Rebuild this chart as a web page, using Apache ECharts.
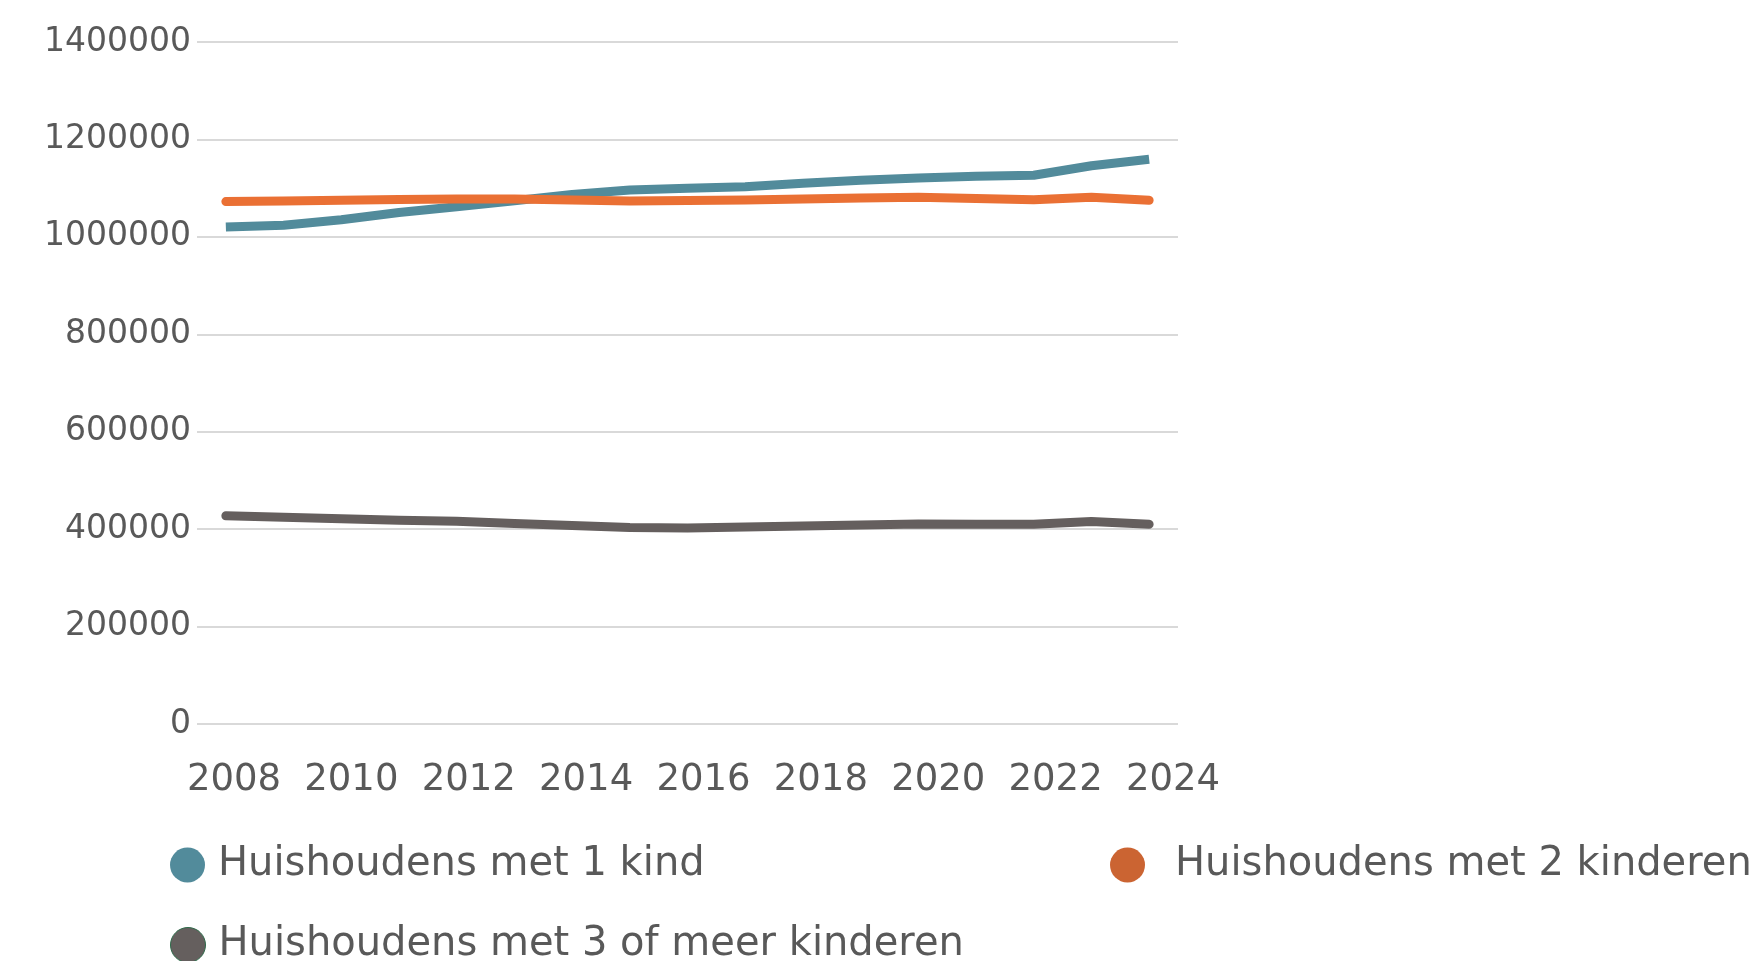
<!DOCTYPE html>
<html>
<head>
<meta charset="utf-8">
<script src="https://cdn.jsdelivr.net/npm/echarts@6/dist/echarts.min.js"></script>
<style>
html,body{margin:0;padding:0;background:#ffffff;}
#chart{width:1758px;height:961px;}
</style>
</head>
<body>
<div id="chart"></div>
<script>
// ---- data ----
const years = ['2008','2009','2010','2011','2012','2013','2014','2015','2016','2017','2018','2019','2020','2021','2022','2023','2024'];
const xTickLabels = [2008, 2010, 2012, 2014, 2016, 2018, 2020, 2022, 2024];
const yTickLabels = [0, 200000, 400000, 600000, 800000, 1000000, 1200000, 1400000];
const seriesNames = ['Huishoudens met 1 kind', 'Huishoudens met 2 kinderen', 'Huishoudens met 3 of meer kinderen'];
const oneChild = [1020000, 1024000, 1035000, 1050000, 1062000, 1074000, 1087000, 1096000, 1100000, 1103000, 1110000, 1116000, 1121000, 1124500, 1126500, 1146000, 1159500];
const twoChildren = [1072500, 1073500, 1075000, 1076500, 1077500, 1077500, 1075500, 1073500, 1074500, 1075500, 1077500, 1080000, 1081500, 1078500, 1076000, 1081500, 1075000];
const threePlus = [427300, 424500, 421100, 418400, 416300, 411600, 407500, 403400, 402600, 404600, 406700, 408700, 410800, 410200, 410200, 415700, 410200];

// ---- styling ----
const FONT = 'DejaVu Sans';
const TEXT = '#595959';
const lineColors = ['#528b9b', '#ea7034', '#655f5e'];
const legendColors = ['#528b9b', '#cb6432', '#655f5e'];

const chart = echarts.init(document.getElementById('chart'), null, {renderer: 'canvas'});

const gridBox = {left: 197, right: 580, top: 42, bottom: 237};

function legendFor(i, left, top, textGap) {
  return {
    show: true,
    left: left, top: top,
    padding: 0,
    orient: 'horizontal',
    icon: 'circle',
    itemWidth: 35, itemHeight: 35,
    selectedMode: false,
    textStyle: {fontFamily: FONT, fontSize: 40, color: TEXT, padding: [0, 0, 0, textGap]},
    data: [{
      name: seriesNames[i],
      itemStyle: i === 2 ? {color: legendColors[i], borderColor: '#2e6b4a', borderWidth: 1} : {color: legendColors[i]}
    }]
  };
}

const option = {
  backgroundColor: '#ffffff',
  animation: false,
  grid: Object.assign({containLabel: false}, gridBox),
  legend: [
    legendFor(0, 170, 845, 8),
    legendFor(1, 1110, 845, 25),
    legendFor(2, 170, 925, 8)
  ],
  xAxis: [
    {
      type: 'category',
      data: years,
      boundaryGap: true,
      axisLine: {show: false},
      axisTick: {show: false},
      axisLabel: {show: false},
      splitLine: {show: false}
    },
    {
      type: 'value',
      position: 'bottom',
      min: 2007.3696,
      max: 2024.0852,
      axisLine: {show: false},
      axisTick: {show: false},
      splitLine: {show: false},
      axisLabel: {
        show: true,
        customValues: xTickLabels,
        formatter: function (v) { return String(Math.round(v)); },
        fontFamily: FONT, fontSize: 37, color: TEXT,
        margin: 38
      }
    }
  ],
  yAxis: {
    type: 'value',
    min: yTickLabels[0],
    max: yTickLabels[yTickLabels.length - 1],
    interval: yTickLabels[1] - yTickLabels[0],
    axisLine: {show: false},
    axisTick: {show: false},
    axisLabel: {
      fontFamily: FONT, fontSize: 33, color: TEXT, margin: 6,
      padding: [4, 0, 0, 0],
      formatter: function (v) { return String(v); }
    },
    splitLine: {show: true, lineStyle: {color: '#d9d9d9', width: 2}}
  },
  series: [
    {
      name: seriesNames[0], type: 'line', data: oneChild, xAxisIndex: 0,
      symbol: 'none', color: lineColors[0],
      lineStyle: {width: 9, color: lineColors[0], cap: 'butt', join: 'round'}
    },
    {
      name: seriesNames[1], type: 'line', data: twoChildren, xAxisIndex: 0,
      symbol: 'none', color: lineColors[1],
      lineStyle: {width: 9, color: lineColors[1], cap: 'round', join: 'round'}
    },
    {
      name: seriesNames[2], type: 'line', data: threePlus, xAxisIndex: 0,
      symbol: 'none', color: lineColors[2],
      lineStyle: {width: 9, color: lineColors[2], cap: 'round', join: 'round'}
    }
  ]
};

chart.setOption(option);
</script>
</body>
</html>
